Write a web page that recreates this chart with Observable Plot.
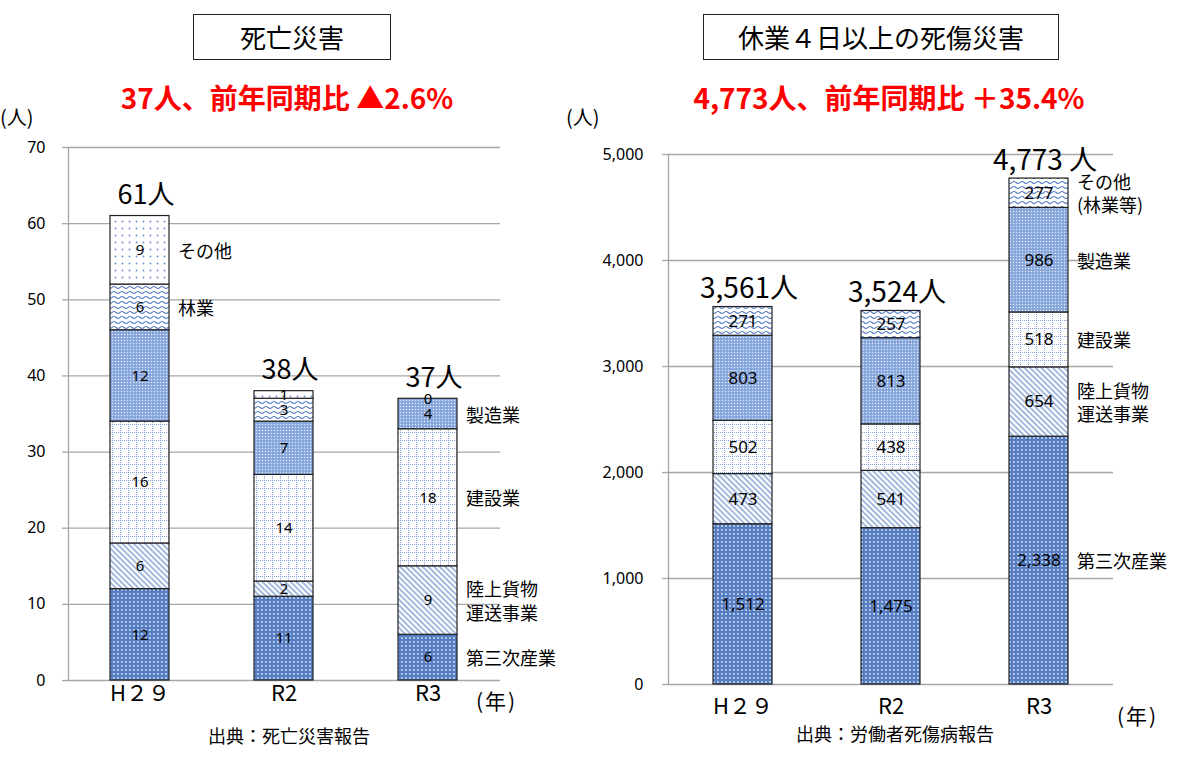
<!DOCTYPE html>
<html>
<head>
<meta charset="utf-8">
<script src="https://cdn.jsdelivr.net/npm/d3@7"></script>
<script src="https://cdn.jsdelivr.net/npm/@observablehq/plot@0.6"></script>
<style>
  body { margin: 0; background: #fff; }
  #root { position: relative; width: 1183px; height: 760px; font-family: "Noto Sans CJK JP", "Noto Sans", sans-serif; color: #000; overflow: hidden; }
  .abs { position: absolute; white-space: nowrap; }
  .box { border: 1.5px solid #222; box-sizing: border-box; text-align: center; font-size: 26px; }
  .red { color: #ff0000; font-weight: bold; font-size: 28px; font-family: "Liberation Sans Narrow", "Noto Sans CJK JP", sans-serif; text-align: center; }
  .plot { position: absolute; top: 120px; }
  .plot svg { overflow: visible; }
</style>
</head>
<body>
<svg width="0" height="0" style="position:absolute">
  <defs>
    <pattern id="p-tert" width="4" height="4" patternUnits="userSpaceOnUse">
      <rect width="4" height="4" fill="#527bc2"/>
      <circle cx="2" cy="2" r="0.95" fill="#ffffff" fill-opacity="0.8"/>
      <circle cx="0" cy="0" r="0.55" fill="#ffffff" fill-opacity="0.55"/>
    </pattern>
    <pattern id="p-trans" width="4" height="4" patternUnits="userSpaceOnUse" patternTransform="rotate(45)">
      <rect width="4" height="4" fill="#ffffff"/>
      <line x1="0" y1="1" x2="4" y2="1" stroke="#5a7fc4" stroke-width="1.1"/>
    </pattern>
    <pattern id="p-cons" width="8" height="8" patternUnits="userSpaceOnUse">
      <rect width="8" height="8" fill="#ffffff"/>
      <line x1="0" y1="0.5" x2="8" y2="0.5" stroke="#7d9cd6" stroke-width="1" stroke-dasharray="1 1"/>
      <line x1="0.5" y1="0" x2="0.5" y2="8" stroke="#7d9cd6" stroke-width="1" stroke-dasharray="1 1"/>
    </pattern>
    <pattern id="p-mfg" width="3" height="3" patternUnits="userSpaceOnUse">
      <rect width="3" height="3" fill="#86a6dc"/>
      <circle cx="1.5" cy="1.5" r="0.7" fill="#ffffff" fill-opacity="0.8"/>
    </pattern>
    <pattern id="p-forest" width="8" height="5" patternUnits="userSpaceOnUse">
      <rect width="8" height="5" fill="#ffffff"/>
      <path d="M0 2.5 Q2 0.5 4 2.5 T8 2.5" fill="none" stroke="#5a7fc4" stroke-width="1.1"/>
    </pattern>
    <pattern id="p-other" width="7" height="7" patternUnits="userSpaceOnUse">
      <rect width="7" height="7" fill="#ffffff"/>
      <circle cx="3.5" cy="3.5" r="0.9" fill="#6a8dcf"/>
    </pattern>
  </defs>
</svg>

<div id="root">
  <div class="abs box" style="left:193px;top:14px;width:198px;height:46px;line-height:43px;">死亡災害</div>
  <div class="abs box" style="left:703px;top:14px;width:356px;height:46px;line-height:43px;">休業４日以上の死傷災害</div>
  <div class="abs red" style="left:87px;width:400px;top:78px;line-height:38px;">37人、前年同期比 ▲2.6%</div>
  <div class="abs red" style="left:689px;width:400px;top:78px;line-height:38px;">4,773人、前年同期比 ＋35.4%</div>
  <div class="abs" style="left:0px;top:104px;font-size:20px;line-height:26px;">(人)</div>
  <div class="abs" style="left:566px;top:104px;font-size:20px;line-height:26px;">(人)</div>
  <div class="abs" style="left:476px;top:687px;font-size:21px;line-height:26px;letter-spacing:2px;">(年)</div>
  <div class="abs" style="left:1117px;top:702px;font-size:21px;line-height:26px;letter-spacing:2px;">(年)</div>
  <div class="abs" style="left:139px;width:300px;text-align:center;top:722px;font-size:18px;line-height:26px;">出典：死亡災害報告</div>
  <div class="abs" style="left:745px;width:300px;text-align:center;top:720px;font-size:18px;line-height:26px;">出典：労働者死傷病報告</div>
  <div id="left" class="plot" style="left:0px;"></div>
  <div id="right" class="plot" style="left:580px;"></div>
</div>

<script>
// ---------- data ----------
const years = ["H29", "R2", "R3"];
const yearLabels = ["H２９", "R2", "R3"];

// 死亡災害 (stack order bottom -> top)
const deathCats = ["第三次産業", "陸上貨物運送事業", "建設業", "製造業", "林業", "その他"];
const deathCatLabels = ["第三次産業", "陸上貨物\n運送事業", "建設業", "製造業", "林業", "その他"];
const deathLabelBeside = ["R3", "R3", "R3", "R3", "H29", "H29"];
const deathH29 = [12, 6, 16, 12, 6, 9];
const deathR2 = [11, 2, 14, 7, 3, 1];
const deathR3 = [6, 9, 18, 4, 0, 0];
const deathTotals = [61, 38, 37];
const deathTotalLabels = ["61人", "38人", "37人"];
const deathTicks = [0, 10, 20, 30, 40, 50, 60, 70];

// 休業4日以上の死傷災害
const injCats = ["第三次産業", "陸上貨物運送事業", "建設業", "製造業", "その他（林業等）"];
const injCatLabels = ["第三次産業", "陸上貨物\n運送事業", "建設業", "製造業", "その他\n(林業等)"];
const injLabelBeside = ["R3", "R3", "R3", "R3", "R3"];
const injH29 = [1512, 473, 502, 803, 271];
const injR2 = [1475, 541, 438, 813, 257];
const injR3 = [2338, 654, 518, 986, 277];
const injTotals = [3561, 3524, 4773];
const injTotalLabels = ["3,561人", "3,524人", "4,773 人"];
const injTicks = [0, 1000, 2000, 3000, 4000, 5000];

// pattern fills
const deathFills = ["url(#p-tert)", "url(#p-trans)", "url(#p-cons)", "url(#p-mfg)", "url(#p-forest)", "url(#p-other)"];
const injFills = ["url(#p-tert)", "url(#p-trans)", "url(#p-cons)", "url(#p-mfg)", "url(#p-forest)"];

function rowsOf(cats, catLabels, beside, series) {
  const rows = [];
  years.forEach((y, yi) => {
    let zeroShown = false;
    cats.forEach((c, ci) => {
      const v = series[yi][ci];
      let show = v > 0;
      if (v === 0 && !zeroShown) { show = true; zeroShown = true; }
      rows.push({year: y, cat: c, value: v, show, side: beside[ci] === y ? catLabels[ci] : null});
    });
  });
  return rows;
}

const deathRows = rowsOf(deathCats, deathCatLabels, deathLabelBeside, [deathH29, deathR2, deathR3]);
const injRows = rowsOf(injCats, injCatLabels, injLabelBeside, [injH29, injR2, injR3]);
const deathTot = years.map((y, i) => ({year: y, total: deathTotals[i], label: deathTotalLabels[i]}));
const injTot = years.map((y, i) => ({year: y, total: injTotals[i], label: injTotalLabels[i]}));

const gridColor = "#a6a6a6";
const numFont = "'Noto Sans', 'Noto Sans CJK JP', sans-serif";
const jpFont = "'Noto Sans CJK JP', sans-serif";

function makeChart({rows, tot, cats, fills, ticks, yMax, fmt, width, mL, mR, mT, mB, pad, xPad, tickPad, valSize, sideSize, totSize, totDy}) {
  return Plot.plot({
    width, height: 600,
    marginLeft: mL, marginRight: mR, marginTop: mT, marginBottom: mB,
    style: {fontFamily: numFont, fontSize: "16px", color: "#000", background: "transparent", overflow: "visible"},
    x: {domain: years, paddingInner: pad, paddingOuter: pad / 2, label: null},
    y: {domain: [0, yMax], label: null},
    color: {domain: cats, range: fills},
    marks: [
      Plot.gridY(ticks, {stroke: gridColor, strokeOpacity: 1, strokeWidth: 1.3}),
      Plot.axisY(ticks, {tickSize: 6, tickPadding: tickPad, stroke: gridColor, strokeWidth: 1.3, fill: "#000", fontSize: 16, tickFormat: fmt, label: null}),
      Plot.axisX({tickSize: 0, tickPadding: xPad, fontSize: 22, fontFamily: jpFont, fill: "#000", tickFormat: d => yearLabels[years.indexOf(d)], label: null}),
      Plot.frame({anchor: "left", stroke: gridColor, strokeWidth: 1.3}),
      Plot.barY(rows, {x: "year", y: "value", fill: "cat", stroke: "#222", strokeWidth: 1.2}),
      Plot.text(rows, Plot.stackY({x: "year", y: "value", text: d => d.show ? fmt(d.value) : null, fontSize: valSize, fill: "#000"})),
      Plot.text(rows, Plot.stackY({x: "year", y: "value", text: "side", dx: 38, textAnchor: "start", fontSize: sideSize, fontFamily: jpFont, lineHeight: 1.3, fill: "#000"})),
      Plot.text(tot, {x: "year", y: "total", text: "label", dx: 6, dy: totDy, lineAnchor: "bottom", fontSize: totSize, fontFamily: jpFont, fill: "#000"})
    ]
  });
}

document.getElementById("left").append(makeChart({
  rows: deathRows, tot: deathTot, cats: deathCats, fills: deathFills, ticks: deathTicks, yMax: 70,
  fmt: d => String(d), width: 580, mL: 68, mR: 80, mT: 27, mB: 40, pad: 0.59, xPad: 5, tickPad: 17,
  valSize: 15, sideSize: 18, totSize: 27, totDy: -12
}));

document.getElementById("right").append(makeChart({
  rows: injRows, tot: injTot, cats: injCats, fills: injFills, ticks: injTicks, yMax: 5000,
  fmt: d3.format(","), width: 603, mL: 88, mR: 70, mT: 34, mB: 36, pad: 0.6, xPad: 14, tickPad: 19,
  valSize: 17, sideSize: 18, totSize: 28, totDy: -9
}));
</script>
</body>
</html>
